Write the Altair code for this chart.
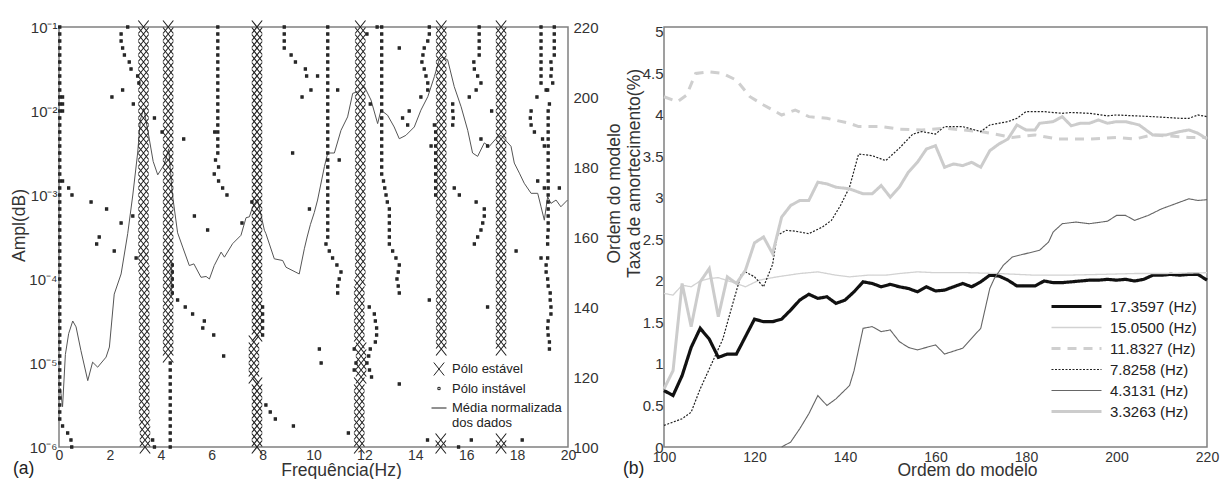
import altair as alt
import pandas as pd

FONT = "Liberation Sans"

# ---------------- (a) stabilisation diagram ----------------
# averaged normalised spectrum: frequency (Hz) and log10 of amplitude
spec_freq = [0.05, 0.14, 0.25, 0.38, 0.54, 0.67, 0.86, 1.13, 1.32, 1.52, 1.85, 1.98, 2.17, 2.44, 2.7,
             2.9, 3.09, 3.2, 3.33, 3.5, 3.7, 3.88, 4.13, 4.31, 4.45, 4.66, 4.86, 5.12, 5.3, 5.58,
             5.78, 5.91, 6.1, 6.37, 6.5, 6.82, 7.15, 7.35, 7.48, 7.61, 7.8, 8.07, 8.13, 8.46, 8.79,
             8.92, 9.31, 9.44, 9.64, 9.75, 9.88, 10.03, 10.16, 10.43, 10.56, 10.82, 11.08, 11.34,
             11.54, 11.73, 12.0, 12.26, 12.52, 12.65, 12.91, 13.17, 13.37, 13.63, 13.96, 14.22,
             14.49, 14.75, 14.94, 15.05, 15.27, 15.53, 15.8, 16.06, 16.25, 16.45, 16.71, 16.91,
             17.17, 17.37, 17.76, 17.89, 18.09, 18.28, 18.55, 18.81, 18.94, 19.07, 19.2, 19.33,
             19.53, 19.72, 19.98]
spec_log_ampl = [-5.3, -5.52, -4.9, -4.65, -4.5, -4.57, -4.85, -5.21, -4.99, -5.05, -4.93, -4.81,
                 -4.18, -3.94, -3.46, -3.0, -2.5, -2.1, -1.97, -2.25, -2.6, -2.76, -2.64, -2.45,
                 -2.98, -3.45, -3.62, -3.84, -3.82, -3.98, -3.97, -4.0, -3.84, -3.68, -3.74, -3.58,
                 -3.48, -3.27, -3.26, -3.14, -3.05, -3.42, -3.46, -3.76, -3.78, -3.86, -3.92, -3.94,
                 -3.64, -3.5, -3.35, -3.21, -3.06, -2.66, -2.5, -2.5, -2.23, -2.07, -1.79, -1.77,
                 -1.71, -1.87, -2.15, -1.99, -2.05, -2.19, -2.33, -2.29, -2.19, -1.99, -1.83, -1.59,
                 -1.39, -1.36, -1.39, -1.71, -1.95, -2.23, -2.5, -2.54, -2.38, -2.42, -2.33, -2.29,
                 -2.42, -2.62, -2.74, -2.86, -2.98, -2.98, -3.14, -3.3, -3.02, -3.1, -3.06, -3.14,
                 -3.06]

# stable poles: (frequency, first model order, last model order), one pole every 2 orders
stable_segments = [(3.38, 100, 106), (3.35, 108, 150), (3.32, 152, 220), (4.29, 126, 220),
                   (7.78, 100, 118), (7.66, 120, 130), (7.78, 132, 220),
                   (11.80, 100, 118), (11.87, 120, 128), (11.80, 130, 146), (11.84, 148, 220),
                   (15.0, 100, 102), (15.02, 128, 220), (17.37, 100, 102), (17.37, 128, 220)]

# unstable pole columns: (frequency, first order, last order)
unstable_segments = [(0.03, 108, 220), (4.37, 100, 124), (4.45, 144, 152), (6.24, 184, 220),
                     (8.0, 132, 140), (8.85, 214, 220), (10.56, 160, 220), (12.68, 178, 220),
                     (14.8, 172, 190), (16.51, 212, 220), (18.94, 204, 220), (19.46, 212, 220),
                     (19.22, 162, 196)]

# isolated unstable poles
unstable_freq = [2.7, 2.44, 2.44, 2.5, 2.57, 2.76, 2.83, 3.09, 3.14, 2.5, 2.08, 2.92, 3.75, 4.05,
                 4.9, 9.18, 9.55, 9.9, 0.14, 0.38, 0.51, 1.26, 1.87, 2.44, 2.9, 5.32, 5.84, 1.58,
                 7.19, 7.58, 9.84, 1.48, 2.17, 3.03, 4.66, 4.96, 5.25, 5.71, 5.65, 6.08, 6.47,
                 8.13, 8.3, 8.5, 9.21, 0.14, 0.34, 0.47, 0.5, 3.68, 3.75, 0.14, 0.14, 0.14,
                 6.12, 6.15, 6.27, 6.1, 6.27, 6.43, 6.6, 9.12, 9.29, 9.68, 9.73,
                 10.16, 10.95, 11.01, 12.1, 13.37, 13.76, 13.5, 13.7, 12.23, 12.5,
                 10.49, 10.62, 10.75, 10.92, 11.08, 11.01, 10.95, 10.95,
                 12.75, 12.8, 12.85, 12.9, 12.98, 12.98, 12.98, 12.98, 12.98, 12.98, 13.11, 13.24,
                 13.37, 13.33, 13.28, 13.33, 13.37,
                 14.55, 14.55, 14.49, 14.35, 14.3, 14.26, 14.35, 14.42, 14.49, 14.49, 14.22,
                 14.75, 14.62, 15.47, 15.47, 15.49, 15.47, 15.53, 15.73, 16.39, 16.71, 16.71,
                 16.65, 16.58, 16.45, 16.32, 17.96, 16.84, 14.55, 13.37, 11.37, 10.23, 10.3,
                 16.3, 16.32, 16.45, 16.58, 16.39, 16.12, 17.0, 16.58, 16.84,
                 19.14, 18.78, 18.55, 18.52, 18.55, 18.68, 19.0, 19.07, 18.81, 19.07, 19.66,
                 19.33, 19.35, 19.33, 19.4, 19.2, 19.27, 19.2, 19.2, 18.94, 19.2, 19.14, 19.14,
                 19.2, 19.22, 19.3, 19.3, 19.33, 19.33, 19.22, 19.2, 19.22, 19.27, 19.27,
                 12.19, 12.39, 12.43, 12.48, 12.48, 12.43, 12.23, 12.17, 12.1, 12.2, 12.28,
                 11.6, 11.67, 11.6, 14.48, 15.7, 16.2, 18.2]
unstable_order = [220, 218, 216, 214, 212, 210, 208, 206, 204, 202, 200, 198, 194, 190,
                  188, 184, 200, 202, 176, 174, 172, 170, 168, 164, 166, 166, 162, 160,
                  164, 170, 168, 158, 156, 154, 142, 140, 138, 136, 134, 132, 126,
                  112, 110, 108, 106, 106, 104, 102, 100, 102, 100, 196, 198, 200,
                  190, 182, 180, 178, 176, 174, 172, 212, 210, 208, 206,
                  206, 202, 182, 218, 214, 196, 194, 192, 198, 220,
                  158, 156, 154, 152, 150, 148, 146, 144,
                  176, 174, 172, 170, 168, 166, 164, 162, 160, 158, 156, 154,
                  152, 150, 148, 146, 144,
                  220, 218, 216, 214, 212, 210, 208, 206, 204, 202, 200,
                  192, 186, 198, 196, 194, 192, 174, 172, 170, 168, 166,
                  164, 162, 160, 158, 156, 140, 142, 118, 104, 128, 124,
                  210, 208, 206, 204, 202, 200, 196, 188, 186,
                  202, 200, 196, 194, 192, 190, 188, 186, 176, 174, 174,
                  210, 208, 206, 204, 202, 198, 160, 158, 154, 154, 152, 150,
                  148, 146, 144, 142, 140, 138, 136, 134, 132, 130, 128,
                  140, 138, 136, 134, 132, 130, 128, 126, 124, 122, 120,
                  128, 124, 122, 102, 100, 102, 102]

STABLE = "Pólo estável"
UNSTABLE = "Pólo instável"
MEAN = "Média normalizada dos dados"

rows = []
for f, a, b in stable_segments:
    for o in range(a, b + 1, 2):
        rows.append({"freq": f, "ordem": o, "tipo": STABLE})
for f, a, b in unstable_segments:
    for o in range(a, b + 1, 2):
        rows.append({"freq": f, "ordem": o, "tipo": UNSTABLE})
for f, o in zip(unstable_freq, unstable_order):
    rows.append({"freq": f, "ordem": o, "tipo": UNSTABLE})
poles = pd.DataFrame(rows)

spec = pd.DataFrame({"freq": spec_freq, "ampl": [10 ** e for e in spec_log_ampl]})

X_PATH = "M-0.8,-1L0.8,1M-0.8,1L0.8,-1"
LINE_PATH = "M-1,0L1,0"

x_left = alt.X("freq:Q", scale=alt.Scale(domain=[0, 20], nice=False),
               axis=alt.Axis(values=list(range(0, 21, 2)), title="Frequência(Hz)",
                             titleX=282, titleY=28, titleAlign="center",
                             titleBaseline="alphabetic", labelPadding=1, labelFontSize=14,
                             labelFlush=False))

amp_label = ("datum.value < 3e-6 ? '10⁻⁶' : datum.value < 3e-5 ? '10⁻⁵' : "
             "datum.value < 3e-4 ? '10⁻⁴' : datum.value < 3e-3 ? '10⁻³' : "
             "datum.value < 3e-2 ? '10⁻²' : '10⁻¹'")

spec_line = alt.Chart(spec).mark_line(color="#555", strokeWidth=1).encode(
    x=x_left,
    y=alt.Y("ampl:Q", scale=alt.Scale(type="log", domain=[1e-6, 1e-1], nice=False),
            axis=alt.Axis(orient="left", values=[1e-6, 1e-5, 1e-4, 1e-3, 1e-2, 1e-1],
                          labelExpr=amp_label, title="Ampl(dB)", titleX=-40, titleY=198,
                          titleAngle=270, titleAlign="center", titleBaseline="middle",
                          labelPadding=2)),
)

legend_a = alt.Legend(title=None, orient="none", legendX=372, legendY=335, padding=0,
                      labelFontSize=13, labelOffset=5, rowPadding=4, symbolStrokeWidth=1,
                      symbolStrokeColor="#222", labelColor="#222",
                      labelExpr="datum.label == 'Média normalizada dos dados' ? "
                                "['Média normalizada', 'dos dados'] : datum.label")

pole_pts = alt.Chart(poles).mark_point(filled=False, color="#222", strokeWidth=1.1,
                                       opacity=1).encode(
    x=alt.X("freq:Q"),
    y=alt.Y("ordem:Q", scale=alt.Scale(domain=[100, 220], nice=False),
            axis=alt.Axis(orient="right", values=list(range(100, 221, 20)),
                          title="Ordem do modelo", titleX=46, titleY=166, titleAngle=270,
                          titleAlign="center", titleBaseline="middle", labelPadding=5)),
    shape=alt.Shape("tipo:N", scale=alt.Scale(domain=[STABLE, UNSTABLE, MEAN],
                                              range=[X_PATH, "square", LINE_PATH]),
                    legend=legend_a),
    size=alt.Size("tipo:N", scale=alt.Scale(type="ordinal", domain=[STABLE, UNSTABLE, MEAN],
                                            range=[169, 5, 225]),
                  legend=legend_a),
    fill=alt.condition(alt.datum.tipo == UNSTABLE, alt.value("#333"), alt.value("transparent")),
)

tag_a = alt.Chart(pd.DataFrame({"t": ["(a)"]})).mark_text(
    fontSize=17.5, font=FONT, color="#222", align="left", baseline="alphabetic").encode(
    text="t:N", x=alt.value(-46), y=alt.value(447))

left = alt.layer(spec_line, pole_pts, tag_a).resolve_scale(
    y="independent").properties(width=509, height=420)

# ---------------- (b) damping ratio vs model order ----------------
modes = ["17.3597 (Hz)", "15.0500 (Hz)", "11.8327 (Hz)", "7.8258 (Hz)", "4.3131 (Hz)", "3.3263 (Hz)"]

order_17 = list(range(100, 221, 2))
damp_17 = [0.68, 0.62, 0.86, 1.2, 1.43, 1.3, 1.08, 1.12, 1.12, 1.33, 1.54, 1.51, 1.51, 1.54,
           1.65, 1.77, 1.84, 1.79, 1.81, 1.73, 1.77, 1.87, 1.99, 1.97, 1.93, 1.96, 1.93, 1.91,
           1.87, 1.93, 1.88, 1.89, 1.93, 1.97, 1.93, 1.99, 2.07, 2.06, 2.01, 1.94, 1.94, 1.94,
           2.0, 1.98, 1.98, 1.99, 2.0, 2.01, 2.01, 2.02, 2.01, 2.02, 2.0, 2.02, 2.07, 2.07, 2.08,
           2.07, 2.08, 2.08, 2.01]
order_15 = [100, 102, 104, 106, 108, 110, 112, 116, 118, 121, 125, 130, 134, 138, 141, 145, 149,
            152, 156, 160, 167, 174, 182, 189, 197, 204, 211, 220]
damp_15 = [1.85, 1.83, 1.95, 1.93, 2.0, 2.03, 2.04, 1.97, 1.93, 2.01, 2.05, 2.09, 2.11, 2.07,
           2.05, 2.07, 2.07, 2.09, 2.11, 2.1, 2.1, 2.09, 2.07, 2.07, 2.08, 2.09, 2.09, 2.1]
order_11 = [100, 103, 105, 107, 110, 113, 116, 119, 122, 126, 129, 132, 136, 141, 143, 148, 152,
            157, 162, 170, 177, 182, 187, 194, 200, 204, 208, 216, 220]
damp_11 = [4.22, 4.16, 4.24, 4.5, 4.52, 4.5, 4.42, 4.22, 4.12, 4.0, 4.06, 3.98, 3.96, 3.9, 3.86,
           3.86, 3.83, 3.82, 3.84, 3.8, 3.73, 3.76, 3.71, 3.71, 3.73, 3.71, 3.76, 3.73, 3.73]
order_7 = [100, 104, 106, 108, 110, 113, 115, 117, 118, 120, 122, 124, 125, 127, 129, 132, 135,
           137, 139, 141, 143, 146, 149, 152, 155, 157, 160, 162, 166, 170, 172, 176, 178, 180,
           184, 188, 190, 194, 198, 200, 204, 208, 214, 216, 218, 220]
damp_7 = [0.26, 0.34, 0.42, 0.7, 0.94, 1.3, 1.69, 2.07, 2.11, 2.05, 1.93, 2.2, 2.55, 2.61, 2.6,
          2.57, 2.65, 2.73, 2.91, 3.13, 3.53, 3.51, 3.45, 3.6, 3.77, 3.8, 3.77, 3.86, 3.86, 3.8,
          3.88, 3.92, 3.96, 4.04, 4.04, 4.02, 4.03, 4.02, 3.99, 4.0, 3.99, 3.98, 3.96, 3.96, 4.0,
          3.98]
order_4 = [126, 128, 130, 132, 134, 136, 138, 141, 142, 144, 146, 148, 150, 152, 154, 156, 160,
           162, 166, 170, 172, 173, 175, 177, 180, 183, 185, 186, 188, 191, 194, 198, 200, 202,
           204, 207, 210, 214, 216, 218, 220]
damp_4 = [0.0, 0.06, 0.22, 0.4, 0.62, 0.5, 0.58, 0.74, 0.92, 1.43, 1.45, 1.39, 1.41, 1.27, 1.2,
          1.17, 1.23, 1.12, 1.19, 1.43, 1.91, 2.03, 2.19, 2.29, 2.33, 2.37, 2.47, 2.59, 2.69,
          2.71, 2.69, 2.72, 2.79, 2.79, 2.73, 2.79, 2.87, 2.95, 2.99, 2.97, 2.98]
order_3 = [100, 102, 104, 106, 108, 110, 112, 114, 116, 118, 120, 122, 124, 126, 128, 130, 132,
           134, 136, 138, 141, 144, 146, 148, 150, 152, 154, 156, 158, 160, 162, 164, 166, 168,
           170, 172, 174, 176, 178, 180, 182, 183, 186, 188, 190, 192, 194, 196, 198, 200, 202,
           205, 208, 211, 214, 216, 218, 220]
damp_3 = [0.7, 0.92, 1.97, 1.45, 1.99, 2.15, 1.57, 2.05, 1.97, 2.13, 2.46, 2.53, 2.33, 2.77,
          2.91, 2.97, 2.97, 3.19, 3.17, 3.13, 3.11, 3.05, 3.05, 3.15, 3.01, 3.13, 3.31, 3.43,
          3.59, 3.63, 3.37, 3.41, 3.39, 3.43, 3.37, 3.57, 3.65, 3.71, 3.88, 3.82, 3.82, 3.9,
          3.92, 3.98, 3.87, 3.9, 3.9, 3.94, 3.9, 3.92, 3.92, 3.88, 3.76, 3.76, 3.8, 3.82, 3.78,
          3.71]

series = [(order_17, damp_17), (order_15, damp_15), (order_11, damp_11),
          (order_7, damp_7), (order_4, damp_4), (order_3, damp_3)]
drows = []
for name, (ords, vals) in zip(modes, series):
    for o, v in zip(ords, vals):
        drows.append({"ordem": o, "taxa": v, "modo": name})
damp = pd.DataFrame(drows)

mode_colors = ["#111111", "#d2d2d2", "#cfcfcf", "#222222", "#666666", "#cccccc"]
mode_dash = [[1, 0], [1, 0], [9, 7], [2, 1.5], [1, 0], [1, 0]]
mode_width = [3.2, 1.3, 3, 1.2, 1.1, 3]

legend_b = alt.Legend(title=None, orient="none", legendX=425, legendY=272, padding=0,
                      labelFontSize=15, labelOffset=6, rowPadding=5, labelColor="#222",
                      symbolType="M-9,0L1,0", symbolSize=100, symbolFillColor="transparent")

right = alt.Chart(damp).mark_line().encode(
    x=alt.X("ordem:Q", scale=alt.Scale(domain=[100, 220], nice=False),
            axis=alt.Axis(values=list(range(100, 221, 20)), title="Ordem do modelo",
                          titleX=303, titleY=28, titleAlign="center",
                          titleBaseline="alphabetic", labelPadding=3, labelFontSize=14,
                          labelFlush=False)),
    y=alt.Y("taxa:Q", scale=alt.Scale(domain=[0, 5.06], nice=False),
            axis=alt.Axis(values=[0, 0.5, 1, 1.5, 2, 2.5, 3, 3.5, 4, 4.5, 5], format="~g",
                          title="Taxa de amortecimento(%)", titleX=-30, titleY=146,
                          titleAngle=270, titleAlign="center", titleBaseline="middle",
                          labelPadding=1)),
    color=alt.Color("modo:N", scale=alt.Scale(domain=modes, range=mode_colors), legend=legend_b),
    strokeDash=alt.StrokeDash("modo:N", scale=alt.Scale(domain=modes, range=mode_dash),
                              legend=legend_b),
    strokeWidth=alt.StrokeWidth("modo:N", scale=alt.Scale(type="ordinal", domain=modes,
                                                          range=mode_width),
                                legend=legend_b),
    order=alt.Order("ordem:Q"),
)

tag_b = alt.Chart(pd.DataFrame({"t": ["(b)"]})).mark_text(
    fontSize=17.5, font=FONT, color="#222", align="left", baseline="alphabetic").encode(
    text="t:N", x=alt.value(-41), y=alt.value(447))

right_chart = alt.layer(right, tag_b).properties(width=543, height=420)

chart = alt.hconcat(left, right_chart, spacing=96, bounds="flush").resolve_legend(
    shape="independent", size="independent", color="independent",
    strokeDash="independent", strokeWidth="independent"
).properties(
    padding={"left": 9, "top": 17, "right": 0, "bottom": 0},
).configure(font=FONT).configure_view(
    stroke="#808080", strokeWidth=1.5
).configure_axis(
    grid=False, domain=False, ticks=False, labelFont=FONT, labelFontSize=15,
    labelColor="#333", titleFont=FONT, titleFontSize=17.5, titleFontWeight="normal",
    titleColor="#333"
).configure_legend(labelFont=FONT)

chart.save("out.html", embed_options={"renderer": "svg", "actions": False})
